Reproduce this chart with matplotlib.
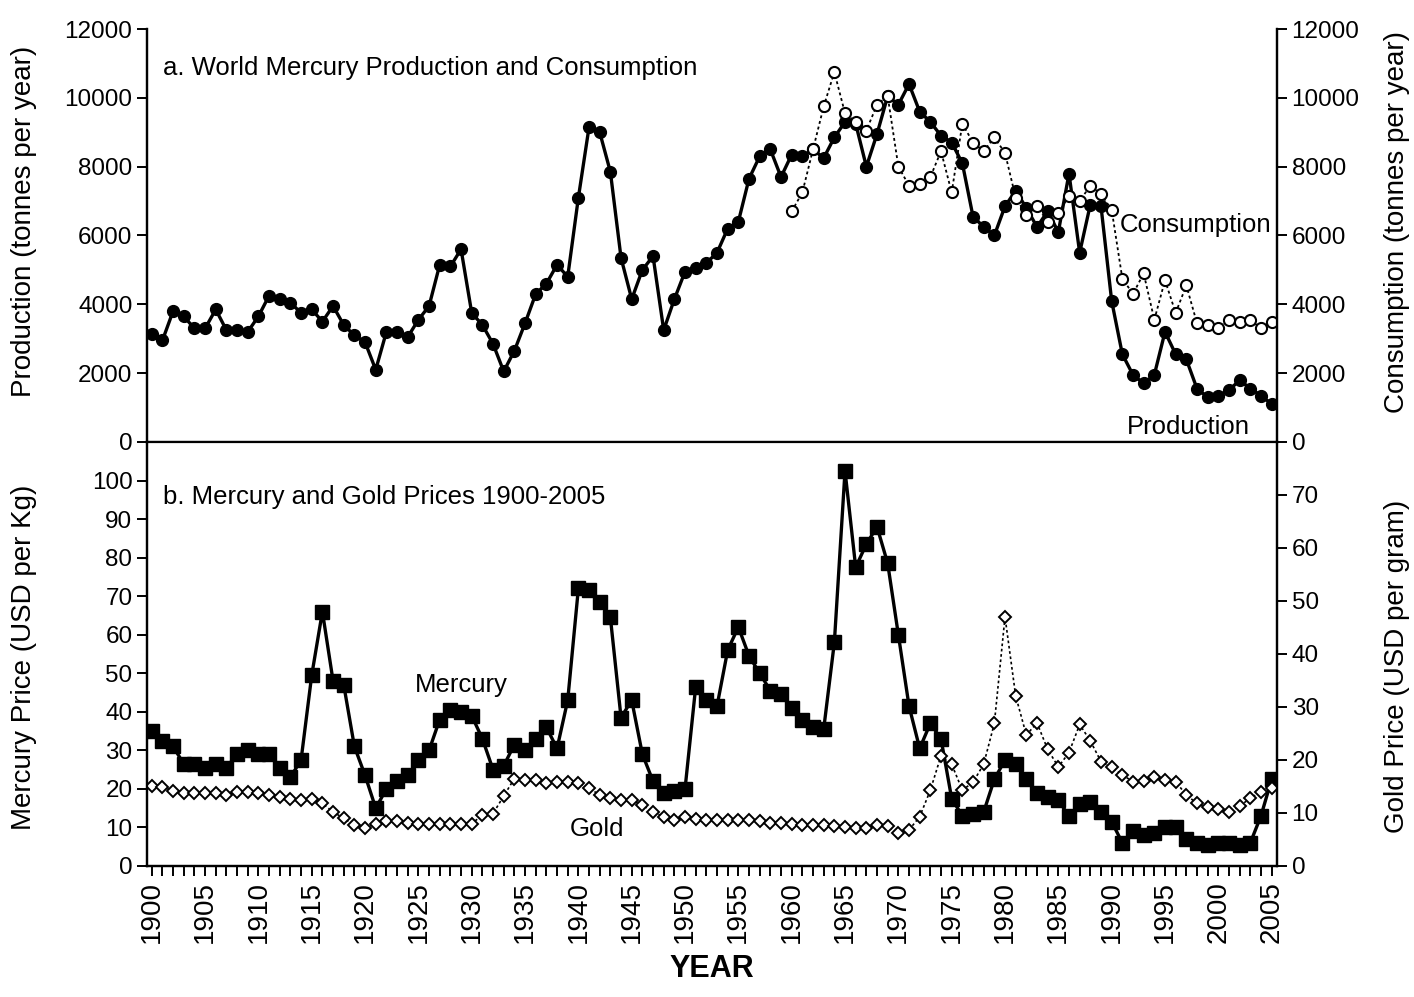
import numpy as np
import matplotlib
matplotlib.use("Agg")
import matplotlib.pyplot as plt
from matplotlib.ticker import MultipleLocator

plt.rcParams["font.family"] = ["Liberation Sans", "DejaVu Sans"]

# ── Données ─────────────────────────────────────────────────────────────────
years = np.arange(1900, 2006)

production = [
    3150, 2950, 3800, 3650, 3300, 3300, 3850, 3250, 3250, 3200,   # 1900-09
    3650, 4250, 4150, 4050, 3750, 3850, 3500, 3950, 3400, 3100,   # 1910-19
    2900, 2100, 3200, 3200, 3050, 3550, 3950, 5150, 5100, 5600,   # 1920-29
    3750, 3400, 2850, 2050, 2650, 3450, 4300, 4600, 5150, 4800,   # 1930-39
    7100, 9150, 9000, 7850, 5350, 4150, 5000, 5400, 3250, 4150,   # 1940-49
    4950, 5050, 5200, 5500, 6200, 6400, 7650, 8300, 8500, 7700,   # 1950-59
    8350, 8300, 8500, 8250, 8850, 9300, 9250, 8000, 8950, 10050,  # 1960-69
    9800, 10400, 9600, 9300, 8900, 8700, 8100, 6550, 6250, 6000,  # 1970-79
    6850, 7300, 6800, 6250, 6700, 6100, 7800, 5500, 6900, 6850,   # 1980-89
    4100, 2550, 1950, 1700, 1950, 3200, 2550, 2400, 1550, 1300,   # 1990-99
    1350, 1500, 1800, 1550, 1350, 1100,                           # 2000-05
]

cons_years = np.arange(1960, 2006)
consumption = [
    6700, 7250, 8500, 9750, 10750, 9550, 9300, 9050, 9800, 10050,  # 1960-69
    8000, 7450, 7500, 7700, 8450, 7250, 9250, 8700, 8450, 8850,    # 1970-79
    8400, 7100, 6600, 6850, 6400, 6650, 7150, 7000, 7450, 7200,    # 1980-89
    6750, 4750, 4300, 4900, 3550, 4700, 3750, 4550, 3450, 3400,    # 1990-99
    3300, 3550, 3500, 3550, 3300, 3500,                            # 2000-05
]

mercury_price = [
    35, 32.5, 31, 26.5, 26.5, 25.5, 26.5, 25.5, 29, 30,            # 1900-09
    29, 29, 25.5, 23, 27.5, 49.5, 66, 48, 47, 31,                  # 1910-19
    23.5, 15, 20, 22, 23.5, 27.5, 30, 38, 40.5, 40,                # 1920-29
    39, 33, 25, 26, 31.5, 30, 33, 36, 30.5, 43,                    # 1930-39
    72, 71.5, 68.5, 64.5, 38.5, 43, 29, 22, 19, 19.5,              # 1940-49
    20, 46.5, 43, 41.5, 56, 62, 54.5, 50, 45.5, 44.5,              # 1950-59
    41, 38, 36, 35.5, 58, 102.5, 77.5, 83.5, 88, 78.5,             # 1960-69
    60, 41.5, 30.5, 37, 33, 17.5, 13, 13.5, 14, 22.5,              # 1970-79
    27.5, 26.5, 22.5, 19, 18, 17, 13, 16, 16.5, 14,                # 1980-89
    11.5, 6, 9, 8, 8.5, 10, 10, 7, 6, 5.5,                         # 1990-99
    6, 6, 5.5, 6, 13, 22.5,                                        # 2000-05
]

gold_price = [
    15.0, 14.9, 14.2, 13.8, 13.8, 13.8, 13.8, 13.4, 14.0, 14.0,    # 1900-09
    13.7, 13.4, 13.0, 12.6, 12.5, 12.6, 11.8, 10.2, 9.0, 7.7,      # 1910-19
    7.1, 8.0, 8.5, 8.4, 8.2, 8.0, 8.0, 8.0, 7.9, 7.9,              # 1920-29
    8.0, 9.6, 9.9, 13.2, 16.5, 16.2, 16.2, 15.6, 15.9, 15.9,       # 1930-39
    15.6, 14.7, 13.4, 12.8, 12.5, 12.5, 11.5, 10.2, 9.3, 8.7,      # 1940-49
    9.3, 8.8, 8.7, 8.7, 8.7, 8.7, 8.7, 8.4, 8.1, 8.1,              # 1950-59
    8.0, 7.7, 7.7, 7.7, 7.5, 7.3, 7.1, 7.1, 7.7, 7.5,              # 1960-69
    6.2, 6.8, 9.3, 14.3, 20.8, 19.2, 14.3, 15.8, 19.2, 26.9,       # 1970-79
    47.0, 32.1, 24.7, 27.0, 22.0, 18.7, 21.4, 26.7, 23.6, 19.7,    # 1980-89
    18.6, 17.2, 15.9, 16.0, 16.7, 16.2, 15.9, 13.4, 11.8, 11.1,    # 1990-99
    10.7, 10.1, 11.3, 12.8, 14.0, 14.7,                            # 2000-05
]

# ── Mise en page ────────────────────────────────────────────────────────────
FS_TICK = 17.5
FS_XTICK = 20
FS_LABEL = 20
FS_TEXT = 18.5

fig = plt.figure(figsize=(14.14, 9.97), dpi=100)
ax1 = fig.add_axes([0.104, 0.5567, 0.7991, 0.4142])
ax2 = fig.add_axes([0.104, 0.1314, 0.7991, 0.4253], sharex=ax1)
ax1r = ax1.twinx()
ax2r = ax2.twinx()

for ax in (ax1, ax1r, ax2, ax2r):
    ax.spines["top"].set_visible(False)
    for s in ("left", "right", "bottom"):
        ax.spines[s].set_linewidth(1.6)
    ax.tick_params(axis="y", direction="out", length=7, width=1.4,
                   labelsize=FS_TICK)

# ── a. production / consommation ────────────────────────────────────────────
ax1.plot(years, production, color="black", lw=2.4, marker="o", ms=8.5,
         mfc="black", mec="black", zorder=3)
ax1r.plot(cons_years, consumption, color="black", lw=1.3, ls=(0, (1.6, 1.6)),
          marker="o", ms=8, mfc="white", mec="black", mew=1.5, zorder=2)

for ax in (ax1, ax1r):
    ax.set_ylim(0, 12000)
    ax.yaxis.set_major_locator(MultipleLocator(2000))
ax1.set_ylabel("Production (tonnes per year)", fontsize=FS_LABEL)
ax1.yaxis.set_label_coords(-0.097, 0.535)
ax1r.set_ylabel("Consumption (tonnes per year)", fontsize=FS_LABEL)
ax1r.yaxis.set_label_coords(1.095, 0.533)

ax1.text(0.0142, 0.906, "a. World Mercury Production and Consumption",
         transform=ax1.transAxes, fontsize=FS_TEXT, va="center")
ax1.text(0.861, 0.525, "Consumption", transform=ax1.transAxes,
         fontsize=FS_TEXT, va="center")
ax1.text(0.867, 0.036, "Production", transform=ax1.transAxes,
         fontsize=FS_TEXT, va="center")

# ── b. prix du mercure et de l'or ───────────────────────────────────────────
ax2.plot(years, mercury_price, color="black", lw=2.4, marker="s", ms=9.5,
         mfc="black", mec="black", zorder=3)
ax2r.plot(years, gold_price, color="black", lw=1.2, ls=(0, (1.6, 1.6)),
          marker="D", ms=6.3, mfc="white", mec="black", mew=1.4, zorder=2)

ax2.set_ylim(0, 110)
ax2.set_yticks(np.arange(0, 101, 10))
ax2r.set_ylim(0, 80)
ax2r.set_yticks(np.arange(0, 71, 10))
ax2.set_ylabel("Mercury Price (USD per Kg)", fontsize=FS_LABEL)
ax2.yaxis.set_label_coords(-0.097, 0.493)
ax2r.set_ylabel("Gold Price (USD per gram)", fontsize=FS_LABEL)
ax2r.yaxis.set_label_coords(1.095, 0.47)

ax2.text(0.0142, 0.870, "b. Mercury and Gold Prices 1900-2005",
         transform=ax2.transAxes, fontsize=FS_TEXT, va="center")
ax2.text(0.237, 0.427, "Mercury", transform=ax2.transAxes,
         fontsize=FS_TEXT, va="center")
ax2.text(0.374, 0.087, "Gold", transform=ax2.transAxes,
         fontsize=FS_TEXT, va="center")

# ── Axe des années ─────────────────────────────────────────────────────────
ax1.set_xlim(1899.56, 2005.5)
ax1.xaxis.set_major_locator(MultipleLocator(5))
ax1.xaxis.set_minor_locator(MultipleLocator(1))
for ax in (ax1, ax2):
    ax.tick_params(axis="x", which="both", direction="out", length=7,
                   width=1.4)
ax1.tick_params(axis="x", labelbottom=False)
ax2.tick_params(axis="x", labelsize=FS_XTICK, labelrotation=90, pad=4)
ax2.set_xlabel("YEAR", fontsize=22, fontweight="bold", labelpad=8)

fig.savefig("out.png", dpi=100)
